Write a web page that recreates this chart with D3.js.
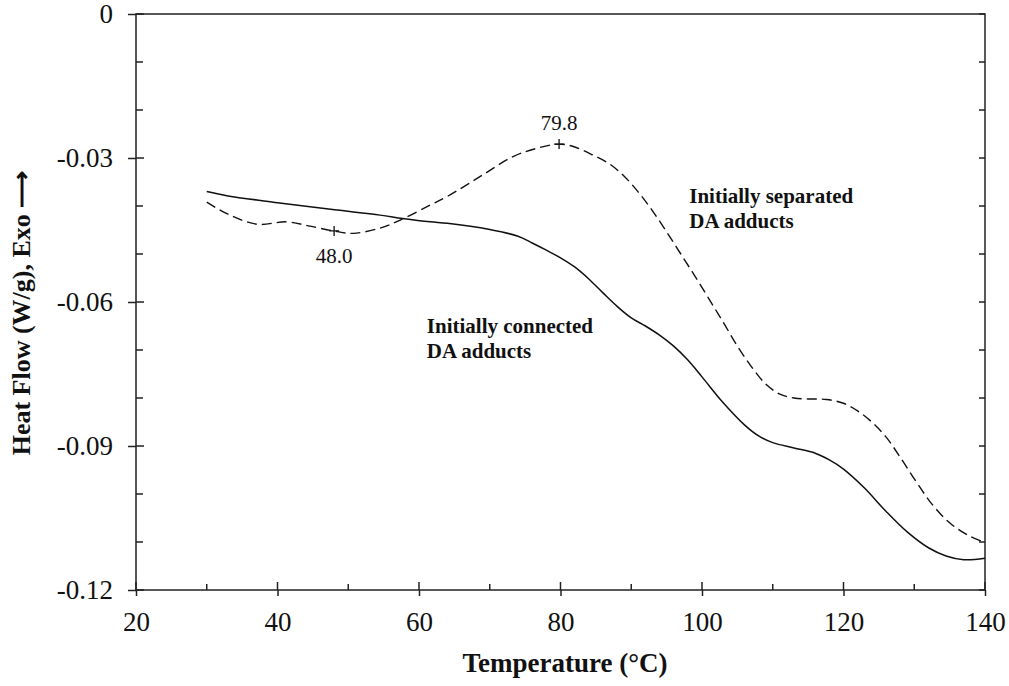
<!DOCTYPE html>
<html>
<head>
<meta charset="utf-8">
<script src="https://cdn.jsdelivr.net/npm/d3@7"></script>
<style>
  body { margin: 0; background: #fff; }
  text { font-family: "Liberation Serif", "Times New Roman", serif; fill: #111; }
</style>
</head>
<body>
<script>
  // readings
  var connectedT = [30, 33, 40, 47.5, 54.5, 57.7, 61.6, 64, 70, 74, 76, 78, 80, 82, 84, 86, 88, 90, 92, 94, 96, 98, 100, 103, 106, 108, 110, 113, 116, 118, 120, 123, 126, 129, 132, 134.5, 137, 140];
  var connectedHF = [-0.0370, -0.0379, -0.0393, -0.0407, -0.0419, -0.0426, -0.0433, -0.0436, -0.0449, -0.0463, -0.0477, -0.0492, -0.0508, -0.0527, -0.0552, -0.0581, -0.0609, -0.0633, -0.0650, -0.0669, -0.0692, -0.0721, -0.0756, -0.0810, -0.0856, -0.0879, -0.0893, -0.0904, -0.0915, -0.0929, -0.0948, -0.0988, -0.1036, -0.1079, -0.1112, -0.1129, -0.1137, -0.1134];

  var separatedT = [30, 33, 37.1, 41.3, 44.6, 48, 50.7, 54.5, 57.7, 61.6, 63.9, 68.6, 73.3, 76.6, 79.8, 82, 84.6, 87, 89, 91, 93, 95, 97, 99, 101, 103, 105, 107, 109, 111, 113, 115, 117.6, 120, 122, 124, 126, 128, 130.3, 132.5, 135, 137.5, 140];
  var separatedHF = [-0.0392, -0.0417, -0.0438, -0.0433, -0.0442, -0.0452, -0.0457, -0.0446, -0.0427, -0.0398, -0.0381, -0.0339, -0.0297, -0.0280, -0.0271, -0.0277, -0.0294, -0.0313, -0.0338, -0.0371, -0.0410, -0.0454, -0.0500, -0.0546, -0.0594, -0.0642, -0.0692, -0.0735, -0.0771, -0.0792, -0.0800, -0.0802, -0.0803, -0.0811, -0.0827, -0.0850, -0.0881, -0.0923, -0.0975, -0.1021, -0.1060, -0.1085, -0.1101];

  var peakT = [48.0, 79.8];
  var peakHF = [-0.0452, -0.0271];
  var peakLabels = ["48.0", "79.8"];

  var tempMajor = [20, 40, 60, 80, 100, 120, 140];
  var tempMinor = [30, 50, 70, 90, 110, 130];
  var flowMajor = [0, -0.03, -0.06, -0.09, -0.12];
  var flowMinor = [-0.01, -0.02, -0.04, -0.05, -0.07, -0.08, -0.10, -0.11];

  var svgWidth = 1009, svgHeight = 686;
  var plotL = 136, plotR = 985, plotT = 14, plotB = 590;

  var svg = d3.select('body').append('svg')
    .attr('width', svgWidth)
    .attr('height', svgHeight);

  var x = d3.scaleLinear().domain([20, 140]).range([plotL, plotR]);
  var y = d3.scaleLinear().domain([-0.12, 0]).range([plotB, plotT]);

  var ink = '#222';

  // frame
  svg.append('rect')
    .attr('x', plotL).attr('y', plotT)
    .attr('width', plotR - plotL).attr('height', plotB - plotT)
    .attr('fill', 'none').attr('stroke', ink).attr('stroke-width', 1.5);

  // bottom axis
  var xAxis = svg.append('g')
    .attr('transform', 'translate(0,' + plotB + ')')
    .call(d3.axisBottom(x).tickValues(tempMajor).tickSize(6).tickSizeOuter(0).tickPadding(16).tickFormat(d3.format('d')));
  xAxis.select('.domain').remove();
  xAxis.selectAll('line').attr('stroke', ink).attr('stroke-width', 1.5);
  xAxis.selectAll('text').attr('font-size', 27).attr('fill', '#111');

  svg.selectAll('.xin')
    .data(tempMajor.concat(tempMinor))
    .enter().append('line')
      .attr('x1', function(d) { return x(d); })
      .attr('x2', function(d) { return x(d); })
      .attr('y1', plotB)
      .attr('y2', function(d) { return tempMajor.indexOf(d) >= 0 ? plotB - 8 : plotB - 6; })
      .attr('stroke', ink).attr('stroke-width', 1.5);

  // left axis
  var yAxis = svg.append('g')
    .attr('transform', 'translate(' + plotL + ',0)')
    .call(d3.axisLeft(y).tickValues(flowMajor).tickSize(8).tickSizeOuter(0).tickPadding(15)
      .tickFormat(function(d) { return d === 0 ? '0' : d.toFixed(2); }));
  yAxis.select('.domain').remove();
  yAxis.selectAll('line').attr('stroke', ink).attr('stroke-width', 1.5);
  yAxis.selectAll('text').attr('font-size', 27).attr('fill', '#111');

  svg.selectAll('.yin')
    .data(flowMajor.concat(flowMinor))
    .enter().append('line')
      .attr('x1', plotL)
      .attr('x2', function(d) { return flowMajor.indexOf(d) >= 0 ? plotL + 8 : plotL + 7; })
      .attr('y1', function(d) { return y(d); })
      .attr('y2', function(d) { return y(d); })
      .attr('stroke', ink).attr('stroke-width', 1.5);

  // right side ticks
  svg.selectAll('.yright')
    .data(flowMajor.concat(flowMinor))
    .enter().append('line')
      .attr('x1', plotR)
      .attr('x2', plotR - 6)
      .attr('y1', function(d) { return y(d); })
      .attr('y2', function(d) { return y(d); })
      .attr('stroke', ink).attr('stroke-width', 1.5);

  // curves
  var line = d3.line()
    .x(function(d) { return x(d[0]); })
    .y(function(d) { return y(d[1]); })
    .curve(d3.curveCatmullRom.alpha(0.5));

  svg.append('path')
    .attr('d', line(d3.zip(connectedT, connectedHF)))
    .attr('fill', 'none').attr('stroke', '#111').attr('stroke-width', 1.5);

  svg.append('path')
    .attr('d', line(d3.zip(separatedT, separatedHF)))
    .attr('fill', 'none').attr('stroke', '#111').attr('stroke-width', 1.4)
    .attr('stroke-dasharray', '10,5');

  // peak markers
  var peaks = d3.zip(peakT, peakHF, peakLabels);
  svg.selectAll('.cross')
    .data(peaks)
    .enter().append('path')
      .attr('d', function(d) {
        var cx = x(d[0]), cy = y(d[1]);
        return 'M' + (cx - 5) + ',' + cy + 'H' + (cx + 5) + 'M' + cx + ',' + (cy - 5) + 'V' + (cy + 5);
      })
      .attr('stroke', '#111').attr('stroke-width', 1.3);

  svg.selectAll('.peaklab')
    .data(peaks)
    .enter().append('text')
      .attr('x', function(d) { return x(d[0]); })
      .attr('y', function(d, i) { return i === 0 ? y(d[1]) + 32 : y(d[1]) - 14; })
      .attr('text-anchor', 'middle')
      .attr('font-size', 21)
      .text(function(d) { return d[2]; });

  // series labels
  function label(px, py, lines) {
    var t = svg.append('text')
      .attr('x', px).attr('y', py)
      .attr('font-size', 21).attr('font-weight', 'bold');
    lines.forEach(function(s, i) {
      t.append('tspan').attr('x', px).attr('dy', i === 0 ? 0 : 25).text(s);
    });
  }
  label(x(98.2), y(-0.0394), ['Initially separated', 'DA adducts']);
  label(x(61.1), y(-0.0665), ['Initially connected', 'DA adducts']);

  // axis titles
  svg.append('text')
    .attr('x', 565).attr('y', 672)
    .attr('text-anchor', 'middle')
    .attr('font-size', 27).attr('font-weight', 'bold')
    .text('Temperature (\u00B0C)');

  svg.append('text')
    .attr('transform', 'translate(30,313) rotate(-90)')
    .attr('text-anchor', 'middle')
    .attr('font-size', 26).attr('font-weight', 'bold')
    .text('Heat Flow (W/g), Exo \u27F6');
</script>
</body>
</html>
